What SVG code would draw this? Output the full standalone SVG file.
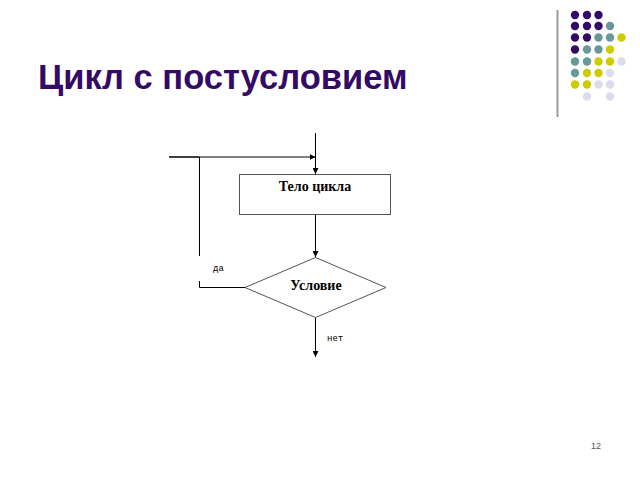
<svg xmlns="http://www.w3.org/2000/svg" width="640" height="480" viewBox="0 0 640 480">
<defs>
<marker id="ah" viewBox="0 0 6 6" refX="6" refY="3" markerWidth="6" markerHeight="6" markerUnits="userSpaceOnUse" orient="auto">
<path d="M0,0 L6,3 L0,6 Z" fill="#000"/>
</marker>
</defs>
<style>
.p{fill:#330a66}.t{fill:#669999}.y{fill:#cccc00}.l{fill:#dcdcec}
.ln{stroke:#000;stroke-width:1;fill:none}
.shape{fill:#fff;stroke:#555;stroke-width:1}
.lbl{font-family:"Liberation Serif",serif;font-weight:bold;font-size:14px;fill:#000}
.sm{font-family:"Liberation Mono","DejaVu Sans Mono",monospace;font-size:9px;fill:#000}
</style>
<rect width="640" height="480" fill="#fff"/>
<line x1="557.5" y1="10" x2="557.5" y2="117" stroke="#999" stroke-width="2"/>
<g id="dots">
<circle class="p" cx="575" cy="15" r="4.2"/><circle class="p" cx="587" cy="15" r="4.2"/><circle class="p" cx="598.5" cy="15" r="4.2"/>
<circle class="p" cx="575" cy="26" r="4.2"/><circle class="p" cx="587" cy="26" r="4.2"/><circle class="p" cx="598.5" cy="26" r="4.2"/><circle class="t" cx="610" cy="26" r="4.2"/>
<circle class="p" cx="575" cy="37.5" r="4.2"/><circle class="p" cx="587" cy="37.5" r="4.2"/><circle class="t" cx="598.5" cy="37.5" r="4.2"/><circle class="t" cx="610" cy="37.5" r="4.2"/><circle class="y" cx="621.5" cy="37.5" r="4.2"/>
<circle class="p" cx="575" cy="49.5" r="4.2"/><circle class="t" cx="587" cy="49.5" r="4.2"/><circle class="t" cx="598.5" cy="49.5" r="4.2"/><circle class="y" cx="610" cy="49.5" r="4.2"/>
<circle class="t" cx="575" cy="61.5" r="4.2"/><circle class="t" cx="587" cy="61.5" r="4.2"/><circle class="y" cx="598.5" cy="61.5" r="4.2"/><circle class="y" cx="610" cy="61.5" r="4.2"/><circle class="l" cx="621.5" cy="61.5" r="4.2"/>
<circle class="t" cx="575" cy="73" r="4.2"/><circle class="y" cx="587" cy="73" r="4.2"/><circle class="y" cx="598.5" cy="73" r="4.2"/><circle class="l" cx="610" cy="73" r="4.2"/>
<circle class="y" cx="575" cy="84.5" r="4.2"/><circle class="y" cx="587" cy="84.5" r="4.2"/><circle class="l" cx="598.5" cy="84.5" r="4.2"/><circle class="l" cx="610" cy="84.5" r="4.2"/>
<circle class="l" cx="587" cy="96.5" r="4.2"/><circle class="l" cx="610" cy="96.5" r="4.2"/>
</g>
<text x="38" y="89" font-family="Liberation Sans,Arial,sans-serif" font-weight="bold" font-size="34.5" fill="#330a66">Цикл с постусловием</text>
<g id="connectors">
<line class="ln" x1="315.5" y1="133" x2="315.5" y2="174" marker-end="url(#ah)"/>
<line class="ln" x1="169" y1="157" x2="315.5" y2="157" marker-end="url(#ah)"/>
<line class="ln" x1="169" y1="157" x2="199" y2="157" stroke-width="1.5"/>
<polyline class="ln" points="199.5,157 199.5,256"/>
<polyline class="ln" points="199.5,281 199.5,287.5 245,287.5"/>
<line class="ln" x1="315.5" y1="214" x2="315.5" y2="257" marker-end="url(#ah)"/>
<line class="ln" x1="315.5" y1="317" x2="315.5" y2="357" marker-end="url(#ah)"/>
</g>
<g id="body">
<rect class="shape" x="239.5" y="174.5" width="151" height="40"/>
<text class="lbl" x="315" y="191" text-anchor="middle">Тело цикла</text>
</g>
<g id="cond">
<polygon class="shape" points="315.5,257.5 386,287.5 315.5,317.5 245,287.5"/>
<text class="lbl" x="316" y="290" text-anchor="middle">Условие</text>
</g>
<text class="sm" x="213" y="271">да</text>
<text class="sm" x="327" y="341">нет</text>
<text x="596" y="449" text-anchor="middle" font-family="Liberation Sans,Arial,sans-serif" font-size="9" fill="#555">12</text>
</svg>
